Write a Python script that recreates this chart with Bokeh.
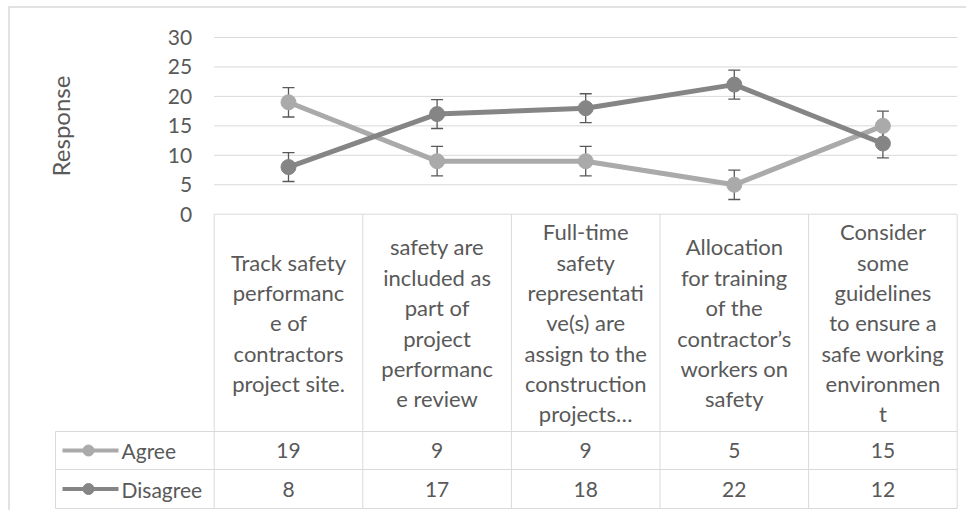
import numpy as np
from bokeh.plotting import figure
from bokeh.models import Range1d, LinearAxis, FixedTicker
from bokeh.core.properties import value
from bokeh.embed import file_html
from bokeh.resources import INLINE

# ---------------- data ----------------
categories = [
    "Track safety\nperformanc\ne of\ncontractors\nproject site.",
    "safety are\nincluded as\npart of\nproject\nperformanc\ne review",
    "Full-time\nsafety\nrepresentati\nve(s) are\nassign to the\nconstruction\nprojects…",
    "Allocation\nfor training\nof the\ncontractor’s\nworkers on\nsafety",
    "Consider\nsome\nguidelines\nto ensure a\nsafe working\nenvironmen\nt",
]
series_names = ["Agree", "Disagree"]
agree = [19, 9, 9, 5, 15]
disagree = [8, 17, 18, 22, 12]
agree_err = [2.5, 2.5, 2.5, 2.5, 2.5]
disagree_err = [2.45, 2.45, 2.45, 2.45, 2.45]
y_ticks = [0, 5, 10, 15, 20, 25, 30]
y_title = "Response"

# ---------------- style / geometry ----------------
FONT = "Lato"
TXT = "#595959"
GRID = "#D9D9D9"
C_AGREE = "#AAAAAA"
C_DIS = "#858585"
C_ERR = "#595959"

W, H = 966, 510       # canvas size (image coordinates = canvas coordinates)
PLOT_LEFT = 213.7     # x where category area starts
COL_W = 148.6         # px per category
ZERO_Y = 213.7        # y of value 0
UNIT = 5.89           # px per value unit
HEAD_BOTTOM = 431     # table rows
ROW1_BOTTOM = 469
ROW2_BOTTOM = 508
LEG_LEFT = 55

n = len(categories)
xs = np.arange(n) + 0.5

p = figure(
    width=W, height=H,
    x_range=Range1d((0 - PLOT_LEFT) / COL_W, (W - PLOT_LEFT) / COL_W),
    y_range=Range1d((ZERO_Y - H) / UNIT, (ZERO_Y - 0) / UNIT),
    x_axis_location=None, y_axis_location=None,
    toolbar_location=None, output_backend="svg",
    min_border=0, min_border_left=0, min_border_right=0,
    min_border_top=0, min_border_bottom=0,
)
p.extra_x_ranges = {"px": Range1d(0, W)}
p.extra_y_ranges = {"px": Range1d(H, 0)}
p.xgrid.visible = False
p.ygrid.visible = False
p.outline_line_color = None
p.background_fill_color = "white"
p.border_fill_color = "white"

# y axis at the left edge of the category area
yax = LinearAxis(
    ticker=FixedTicker(ticks=y_ticks), bounds=(min(y_ticks), max(y_ticks)),
    fixed_location=0,
    axis_line_color=None, major_tick_line_color=None, minor_tick_line_color=None,
    major_tick_out=0, major_tick_in=0, major_label_standoff=22,
    major_label_text_font=FONT, major_label_text_font_size="21px",
    major_label_text_color=TXT,
    axis_label=y_title, axis_label_text_font=FONT, axis_label_text_font_size="24px",
    axis_label_text_font_style="normal", axis_label_text_color=TXT,
    axis_label_standoff=90,
)
p.add_layout(yax, "left")

# outer chart border (left + top)
p.segment(x0=[8.5, 8], y0=[6, 6.5], x1=[8.5, W], y1=[H, 6.5],
          line_color=GRID, line_width=1.5, x_range_name="px", y_range_name="px")

# gridlines
p.segment(x0=0, x1=n, y0=y_ticks, y1=y_ticks, line_color=GRID, line_width=1)

# table lines
xb = np.arange(n + 1)
p.segment(x0=xb, x1=xb, y0=ZERO_Y, y1=ROW2_BOTTOM, line_color=GRID, line_width=1,
          y_range_name="px")
right_px = PLOT_LEFT + n * COL_W
p.segment(x0=LEG_LEFT, x1=right_px, y0=[HEAD_BOTTOM, ROW1_BOTTOM, ROW2_BOTTOM],
          y1=[HEAD_BOTTOM, ROW1_BOTTOM, ROW2_BOTTOM], line_color=GRID, line_width=1,
          x_range_name="px", y_range_name="px")
p.segment(x0=LEG_LEFT, x1=LEG_LEFT, y0=HEAD_BOTTOM, y1=ROW2_BOTTOM, line_color=GRID,
          line_width=1, x_range_name="px", y_range_name="px")

# series
series = [(agree, agree_err, C_AGREE), (disagree, disagree_err, C_DIS)]
for vals, err, col in series:
    p.line(xs, vals, line_color=col, line_width=5, line_join="round")
for vals, err, col in series:
    v = np.array(vals, dtype=float)
    e = np.array(err, dtype=float)
    p.segment(x0=xs, x1=xs, y0=v - e, y1=v + e, line_color=C_ERR, line_width=1.3)
    p.scatter(np.concatenate([xs, xs]), np.concatenate([v - e, v + e]), marker="dash",
              size=12, line_color=C_ERR, line_width=1.3)
for vals, err, col in series:
    p.scatter(xs, vals, size=15, marker="circle", fill_color=col, line_color=col)

# category labels in the table header
p.text(x=xs, y=(ZERO_Y + HEAD_BOTTOM) / 2, text=categories, text_font=value(FONT),
       text_font_size="22px", text_color=TXT, text_align="center",
       text_baseline="middle", text_line_height=1.125, y_range_name="px")

# data rows
row_y = [(HEAD_BOTTOM + ROW1_BOTTOM) / 2, (ROW1_BOTTOM + ROW2_BOTTOM) / 2]
for (vals, err, col), ry, name in zip(series, row_y, series_names):
    p.text(x=xs, y=ry, text=[str(v) for v in vals], text_font=value(FONT),
           text_font_size="21px", text_color=TXT, text_align="center",
           text_baseline="middle", y_range_name="px")
    # legend key
    p.segment(x0=62, x1=118, y0=ry, y1=ry, line_color=col, line_width=4,
              x_range_name="px", y_range_name="px")
    p.scatter([88], [ry], size=11, marker="circle", fill_color=col, line_color=col,
              x_range_name="px", y_range_name="px")
    p.text(x=[121], y=[ry], text=[name], text_font=value(FONT), text_font_size="21px",
           text_color=TXT, text_align="left", text_baseline="middle",
           x_range_name="px", y_range_name="px")

open("out.html", "w").write(file_html(p, INLINE))
